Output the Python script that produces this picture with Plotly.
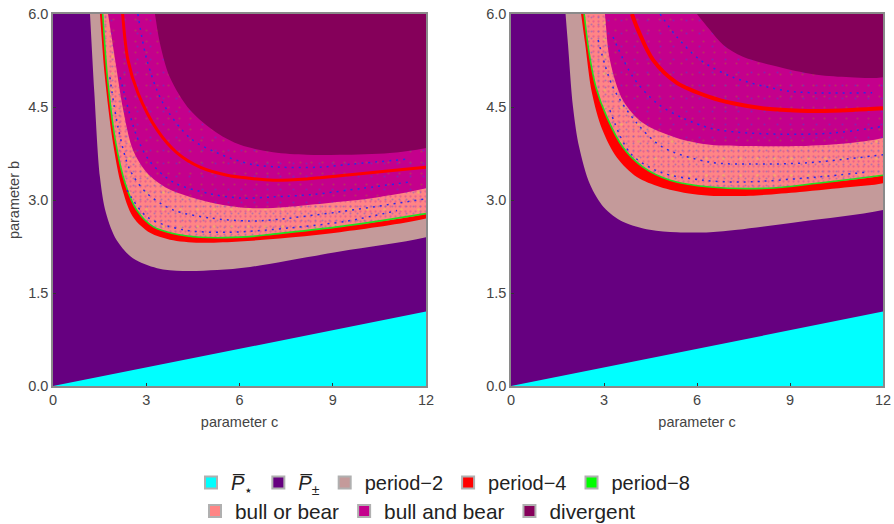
import plotly.graph_objects as go

C_MAX, B_MAX = 12, 6
OVER = 2  # how far the region outlines run past the axes before closing
FONT = "Liberation Sans"

# ---------- stability line shared by both panels ----------
star_c = [0, 12]
star_b = [0, 1.2]

# ---------- left panel boundaries ----------
L_tan_c = [1.19, 1.33, 1.51, 1.70, 2.05, 2.57, 3.35, 4.18, 5.28, 6.34, 9.23, 12]
L_tan_b = [6, 4.73, 3.37, 2.80, 2.35, 2.06, 1.90, 1.855, 1.87, 1.92, 2.17, 2.40]
L_red_c = [1.51, 1.67, 1.93, 2.21, 2.57, 3.12, 3.76, 4.73, 6.0, 7.08, 9.23, 12]
L_red_b = [6, 4.98, 3.92, 3.21, 2.73, 2.47, 2.36, 2.31, 2.33, 2.37, 2.48, 2.70]
L_sal_c = [1.6, 1.75, 2.02, 2.32, 2.69, 3.22, 3.86, 4.73, 6.34, 7.08, 9.23, 12]
L_sal_b = [6, 4.98, 3.92, 3.27, 2.84, 2.57, 2.46, 2.40, 2.41, 2.45, 2.57, 2.78]
L_mag_c = [1.77, 2.0, 2.26, 2.57, 3.02, 3.67, 4.41, 5.47, 6.34, 7.08, 9.23, 10.5, 12]
L_mag_b = [6, 5.26, 4.45, 3.81, 3.44, 3.19, 3.05, 2.92, 2.87, 2.87, 2.97, 3.05, 3.19]
L_div_c = [3.28, 3.44, 3.76, 4.41, 5.28, 6.02, 7.08, 8.17, 9.23, 10.84, 12]
L_div_b = [6, 5.53, 4.98, 4.45, 4.08, 3.89, 3.77, 3.73, 3.73, 3.76, 3.84]
L_inner_c = [2.24, 2.41, 2.73, 3.35, 3.99, 4.73, 5.6, 6.34, 7.08, 8.17, 9.23, 10.84, 12]
L_inner_b = [6, 5.26, 4.73, 4.13, 3.76, 3.53, 3.4, 3.35, 3.32, 3.34, 3.39, 3.47, 3.53]
L_blue = [
    ([1.83, 2.09, 2.48, 3.02, 3.86, 5.05, 6.34, 7.08, 9.23, 12],
     [4.98, 4.18, 3.48, 3.11, 2.84, 2.71, 2.66, 2.68, 2.81, 3.02]),
    ([2.16, 2.7, 3.12, 3.86, 5.05, 6.08, 7.08, 8.37, 9.97, 11.49],
     [4.98, 4.02, 3.62, 3.29, 3.1, 3.03, 3.05, 3.09, 3.19, 3.29]),
    ([2.73, 3.02, 3.54, 4.41, 5.28, 6.34, 7.3, 8.6, 9.65, 11.42],
     [6, 5.26, 4.56, 4.0, 3.76, 3.58, 3.53, 3.53, 3.58, 3.66]),
    ([2.38, 3.02, 4.18, 5.6, 7.63, 9.46, 11.07],
     [3.16, 2.73, 2.52, 2.48, 2.55, 2.66, 2.83]),
]

# ---------- right panel boundaries ----------
R_tan_c = [1.76, 1.84, 2.0, 2.2, 2.55, 3.0, 3.61, 4.48, 5.35, 6.42, 7.3, 9.32, 12]
R_tan_b = [6, 5.5, 4.5, 3.85, 3.25, 2.88, 2.65, 2.52, 2.48, 2.48, 2.52, 2.65, 2.84]
R_red_c = [2.26, 2.39, 2.61, 2.94, 3.42, 4.06, 4.81, 5.68, 6.42, 7.71, 9.32, 10.94, 12]
R_red_b = [6, 5.53, 4.73, 4.14, 3.68, 3.37, 3.21, 3.11, 3.07, 3.07, 3.13, 3.21, 3.27]
R_sal_c = [2.36, 2.52, 2.74, 3.09, 3.61, 4.26, 5.13, 6.42, 8.26, 9.87, 12]
R_sal_b = [6, 5.37, 4.82, 4.34, 3.85, 3.53, 3.32, 3.21, 3.19, 3.27, 3.40]
R_mag_c = [3.03, 3.19, 3.61, 4.26, 5.35, 6.42, 7.71, 9.32, 10.94, 12]
R_mag_b = [6, 5.26, 4.61, 4.24, 4.0, 3.89, 3.87, 3.87, 3.92, 4.0]
R_div_c = [6.0, 6.42, 6.85, 7.48, 8.77, 9.87, 10.94, 12]
R_div_b = [6, 5.74, 5.5, 5.31, 5.13, 5.02, 4.98, 4.98]
R_inner_c = [3.9, 4.1, 4.58, 5.35, 6.42, 7.16, 8.26, 9.32, 10.39, 12]
R_inner_b = [6, 5.74, 5.26, 4.89, 4.66, 4.56, 4.47, 4.44, 4.44, 4.48]
R_blue = [
    ([2.81, 3.29, 4.06, 4.9, 6.42, 7.71, 9.55, 12],
     [5.58, 4.82, 4.24, 3.85, 3.61, 3.58, 3.6, 3.73]),
    ([3.29, 3.94, 4.71, 5.55, 6.42, 7.16, 8.77, 10.39, 11.9],
     [5.63, 4.98, 4.56, 4.32, 4.16, 4.1, 4.06, 4.08, 4.18]),
    ([4.81, 5.35, 6.1, 7.16, 8.77, 9.65, 11.65],
     [6, 5.63, 5.26, 4.98, 4.77, 4.73, 4.73]),
    ([3.19, 3.84, 4.81, 6.19, 7.48, 9.87, 11.48],
     [4.45, 3.76, 3.45, 3.32, 3.29, 3.37, 3.45]),
]

# ---------- legend ----------
row1 = ["<i>P\u0305</i><sub>\u22c6</sub>", "<i>P\u0305</i><sub>\u00b1</sub>",
        "period\u22122", "period\u22124", "period\u22128"]
row1_colors = ["#00ffff", "#660080", "#c49a9a", "#ff0000", "#00ff00"]
row2 = ["bull or bear", "bull and bear", "divergent"]
row2_colors = ["#ff8585", "#c4008c", "#85005a"]

TICK_C = [0, 3, 6, 9, 12]
TICK_B = [0, 1.5, 3, 4.5, 6]
TICK_B_TEXT = ["0.0", "1.5", "3.0", "4.5", "6.0"]

fig = go.Figure()
SMOOTH = 0.9


def band(c, b, color, ax, pattern=None):
    """Region above a boundary curve; the outline is closed outside the clipped plot area."""
    lead_c = 2 * c[0] - c[1]
    lead_b = 2 * b[0] - b[1]
    xs = [lead_c, lead_c] + c + [C_MAX + OVER, C_MAX + OVER, lead_c]
    ys = [B_MAX + OVER, lead_b] + b + [b[-1] + 0.3, B_MAX + OVER, B_MAX + OVER]
    tr = dict(x=xs, y=ys, mode="lines", fill="toself", fillcolor=color,
              line=dict(width=0, shape="spline", smoothing=SMOOTH), showlegend=False,
              hoverinfo="skip", xaxis=ax[0], yaxis=ax[1])
    if pattern:
        tr["fillpattern"] = pattern
    fig.add_trace(go.Scatter(**tr))


def curve(c, b, ax, **line):
    fig.add_trace(go.Scatter(x=c, y=b, mode="lines", showlegend=False, hoverinfo="skip",
                             line=dict(shape="spline", smoothing=SMOOTH, **line),
                             xaxis=ax[0], yaxis=ax[1]))


def panel(ax, tan, red, sal, mag, div, inner, blues, inner_w):
    fig.add_trace(go.Scatter(x=star_c, y=star_b, mode="lines", fill="tozeroy", fillcolor="#00ffff",
                             line=dict(width=0), showlegend=False, hoverinfo="skip",
                             xaxis=ax[0], yaxis=ax[1]))
    band(tan[0], tan[1], "#c49a9a", ax)
    band(red[0], red[1], "#ff0000", ax)
    clear = "rgba(0,0,0,0)"
    band(sal[0], sal[1], "#ff8585", ax,
         dict(shape=".", fgcolor="#d0409c", bgcolor="#ff8585", size=5, solidity=0.16))
    band(sal[0], sal[1], clear, ax,
         dict(shape=".", fgcolor="#7060c8", bgcolor=clear, size=7, solidity=0.07))
    band(sal[0], sal[1], clear, ax,
         dict(shape=".", fgcolor="#e8d050", bgcolor=clear, size=17, solidity=0.02))
    curve(sal[0], sal[1], ax, color="#20e020", width=1.6)
    band(mag[0], mag[1], "#c4008c", ax,
         dict(shape=".", fgcolor="#a8603c", bgcolor="#c4008c", size=11, solidity=0.03))
    band(mag[0], mag[1], clear, ax,
         dict(shape=".", fgcolor="#5040d0", bgcolor=clear, size=13, solidity=0.02))
    for bc, bb in blues:
        curve(bc, bb, ax, color="#2a2ae8", width=1.5, dash="2px,5px")
    curve(inner[0], inner[1], ax, color="#ff0000", width=inner_w)
    band(div[0], div[1], "#85005a", ax)


panel(("x", "y"), (L_tan_c, L_tan_b), (L_red_c, L_red_b), (L_sal_c, L_sal_b), (L_mag_c, L_mag_b),
      (L_div_c, L_div_b), (L_inner_c, L_inner_b), L_blue, 3)
panel(("x2", "y2"), (R_tan_c, R_tan_b), (R_red_c, R_red_b), (R_sal_c, R_sal_b), (R_mag_c, R_mag_b),
      (R_div_c, R_div_b), (R_inner_c, R_inner_b), R_blue, 4)

for names, colors, lg in ((row1, row1_colors, "legend"), (row2, row2_colors, "legend2")):
    for n, col in zip(names, colors):
        fig.add_trace(go.Scatter(x=[None], y=[None], mode="markers", name=n, legend=lg,
                                 marker=dict(symbol="square", size=13, color=col,
                                             line=dict(color="#b0b0b0", width=1))))

W, H = 894, 524
axis_style = dict(showgrid=False, zeroline=False, showline=True, linecolor="#8a8a8a", linewidth=1.5,
                  mirror=True, ticks="inside", ticklen=3, tickcolor="#333333", tickwidth=1,
                  automargin=False, tickfont=dict(family=FONT, size=14.5, color="#444444"))
xaxis_style = dict(axis_style, range=[0, C_MAX], tickvals=TICK_C)
yaxis_style = dict(axis_style, range=[0, B_MAX], tickvals=TICK_B, ticktext=TICK_B_TEXT)
title_font = dict(family=FONT, size=14.5, color="#444444")

fig.update_layout(
    width=W, height=H, margin=dict(l=0, r=0, t=0, b=0, autoexpand=False), autosize=False,
    paper_bgcolor="white", plot_bgcolor="#660080",
    font=dict(family=FONT, color="#333333"),
    xaxis=dict(xaxis_style, domain=[53 / W, 426 / W], anchor="y",
               title=dict(text="parameter c", font=title_font, standoff=10)),
    yaxis=dict(yaxis_style, domain=[1 - 386 / H, 1 - 14 / H], anchor="x",
               title=dict(text="parameter b", font=title_font, standoff=5)),
    xaxis2=dict(xaxis_style, domain=[511 / W, 883 / W], anchor="y2",
                title=dict(text="parameter c", font=title_font, standoff=10)),
    yaxis2=dict(yaxis_style, domain=[1 - 386 / H, 1 - 14 / H], anchor="x2"),
    legend=dict(orientation="h", x=191 / W, y=1 - 463 / H, xanchor="left", yanchor="top",
                font=dict(family=FONT, size=20, color="#222222"), bgcolor="rgba(0,0,0,0)",
                itemsizing="constant", tracegroupgap=0),
    legend2=dict(orientation="h", x=195 / W, y=1 - 491 / H, xanchor="left", yanchor="top",
                 font=dict(family=FONT, size=20.8, color="#222222"), bgcolor="rgba(0,0,0,0)",
                 itemsizing="constant", tracegroupgap=0),
)

fig.write_html("out.html", config={"displayModeBar": False},
               post_script="document.body.style.margin='0';")
